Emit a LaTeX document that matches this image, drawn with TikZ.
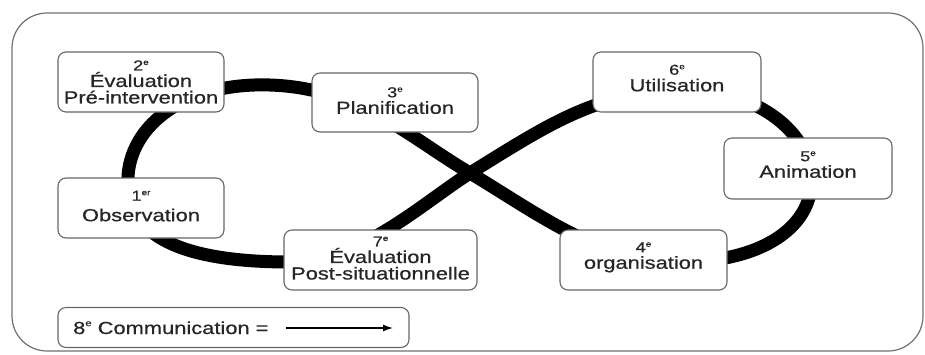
\documentclass[tikz,border=0pt]{standalone}
\usepackage{fontspec}
\setmainfont{Liberation Sans}[FakeStretch=1.25, FakeBold=0.6]
\usetikzlibrary{arrows.meta}
\definecolor{txt}{HTML}{262626}
\definecolor{framec}{HTML}{707070}
\definecolor{boxc}{HTML}{666666}
\newcommand{\ordn}[2]{{\fontsize{14.5}{14.5}\selectfont #1\raisebox{0.38em}{\fontsize{8}{8}\selectfont #2}}}
\begin{document}
\begin{tikzpicture}[x=1pt, y=-1pt,
  stage/.style={draw=boxc, line width=1.1pt, rounded corners=8pt, fill=white,
    text=txt, align=center, inner sep=1pt, font=\fontsize{17.5}{16.5}\selectfont},
  loopline/.style={line width=13pt, black, line cap=butt, line join=round},
  commarrow/.style={-{Latex[length=10pt,width=7pt]}, line width=1.3pt, black}]
\useasboundingbox (0,0) rectangle (925,354);
\draw[framec, line width=1.2pt, rounded corners=35pt] (12,13) rectangle (923,351);
% waypoints of the figure eight
\coordinate (X)  at (470,173);
\coordinate (r6) at (670,90);
\coordinate (r5) at (810,168);
\coordinate (r4) at (680,262);
\coordinate (l3) at (270,85);
\coordinate (l1) at (128,185);
\coordinate (l7) at (290,262);
\draw[loopline] (X) .. controls (540,130) and (590,95) .. (r6)
  .. controls (740,85) and (800,120) .. (r5)
  .. controls (820,220) and (770,262) .. (r4)
  .. controls (600,262) and (540,215) .. (X)
  .. controls (410,138) and (360,88) .. (l3)
  .. controls (180,82) and (125,130) .. (l1)
  .. controls (130,240) and (190,262) .. (l7)
  .. controls (360,262) and (420,205) .. (X);
% stages
\node[stage, minimum width=166pt, minimum height=60pt] (b2) at (141,82)
  {\ordn{2}{e}\\Évaluation\\Pré-intervention};
\node[stage, minimum width=166pt, minimum height=59pt, text depth=4pt] (b3) at (395,102.5)
  {\ordn{3}{e}\\Planification};
\node[stage, minimum width=166pt, minimum height=60pt, text depth=4pt] (b1) at (141,208)
  {\ordn{1}{er}\\[4pt]Observation};
\node[stage, minimum width=193pt, minimum height=60pt, text depth=4pt] (b7) at (380.5,260)
  {\ordn{7}{e}\\Évaluation\\Post-situationnelle};
\node[stage, minimum width=168pt, minimum height=60pt, text depth=8pt] (b6) at (677,82)
  {\ordn{6}{e}\\Utilisation};
\node[stage, minimum width=168pt, minimum height=61pt, text depth=8pt] (b5) at (808,168.5)
  {\ordn{5}{e}\\Animation};
\node[stage, minimum width=167pt, minimum height=60pt, text depth=9pt] (b4) at (643.5,260)
  {\ordn{4}{e}\\organisation};
% legend
\node[stage, minimum width=351pt, minimum height=40pt] (b8) at (233.5,327.5) {};
\node[anchor=base west, inner sep=0pt, text=txt, font=\fontsize{17.5}{16.5}\selectfont] (t8) at (73,334)
  {8\raisebox{0.45em}{\fontsize{9}{9}\selectfont e} Communication =};
\coordinate (a1) at (286,328);
\coordinate (a2) at (393,328);
\draw[commarrow] (a1) -- (a2);
\end{tikzpicture}
\end{document}
